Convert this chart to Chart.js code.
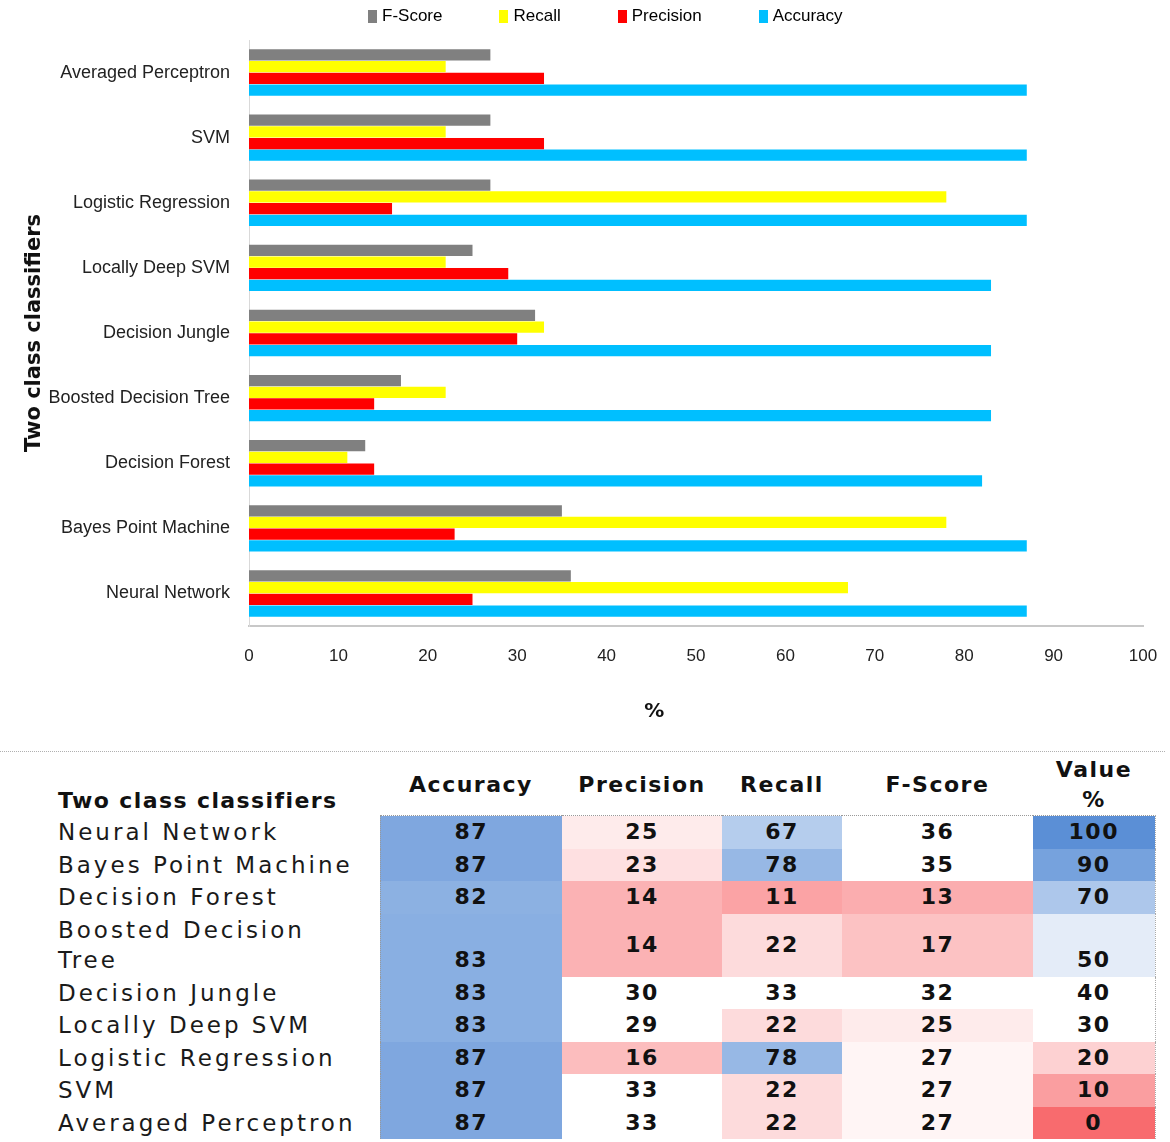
<!DOCTYPE html>
<html>
<head>
<meta charset="utf-8">
<script src="https://cdn.jsdelivr.net/npm/chart.js@4"></script>
<style>
html,body{margin:0;padding:0;background:#fff;}
#page{position:relative;width:1170px;height:1142px;overflow:hidden;}
#chartBox{position:absolute;left:0;top:0;width:1170px;height:745px;}
#legend{position:absolute;left:368px;top:4px;display:flex;font:17px "Liberation Sans",Arial,sans-serif;color:#000;line-height:24px;}
#legend .item{display:flex;align-items:center;margin-right:57px;}
#legend .box{width:9px;height:13px;margin-right:5px;}
#sep{position:absolute;left:0;top:751px;width:1165px;border-top:1px dotted #b0b0b0;}
#tbl{position:absolute;left:58px;top:755px;border-collapse:collapse;table-layout:fixed;font-family:"DejaVu Sans",Verdana,sans-serif;color:#111;}
#tbl th{font-weight:bold;font-size:22px;letter-spacing:1.5px;height:60px;padding:0;text-align:center;vertical-align:middle;line-height:30px;}
#tbl th.lab{text-align:left;vertical-align:bottom;letter-spacing:1.4px;padding-bottom:0;}
#tbl td{padding:1px 0;line-height:30.5px;font-size:22px;}
#tbl td.lab{font-size:23px;letter-spacing:3px;text-align:left;padding-right:14px;color:#1a1a1a;}
#tbl td.num{font-weight:bold;letter-spacing:1.5px;text-align:center;vertical-align:middle;}
#tbl td.bot{vertical-align:bottom;}
#tbl tr.first td.num{border-top:1px dotted #999;}
#tbl td.acc{border-left:1px dotted #999;}
#tbl td.val{border-right:1px dotted #aaa;}
</style>
</head>
<body>
<div id="page">
  <div id="chartBox"><canvas id="chart"></canvas></div>
  <div id="legend"></div>
  <div id="sep"></div>
  <table id="tbl"></table>
</div>
<script>
// values as listed in the table (top row first)
const classifiers = ["Neural Network", "Bayes Point Machine", "Decision Forest", "Boosted Decision Tree",
  "Decision Jungle", "Locally Deep SVM", "Logistic Regression", "SVM", "Averaged Perceptron"];
const accuracy  = [87, 87, 82, 83, 83, 83, 87, 87, 87];
const precision = [25, 23, 14, 14, 30, 29, 16, 33, 33];
const recall    = [67, 78, 11, 22, 33, 22, 78, 22, 22];
const fscore    = [36, 35, 13, 17, 32, 25, 27, 27, 27];
const scaleValues = [100, 90, 70, 50, 40, 30, 20, 10, 0];
const xTicks = [0, 10, 20, 30, 40, 50, 60, 70, 80, 90, 100];

const rev = a => a.slice().reverse();
const sans = '"Liberation Sans",Arial,sans-serif';

const chart = new Chart(document.getElementById("chart"), {
  type: "bar",
  data: {
    labels: rev(classifiers),
    datasets: [
      {label: "F-Score", data: rev(fscore), backgroundColor: "#808080"},
      {label: "Recall", data: rev(recall), backgroundColor: "#FFFF00"},
      {label: "Precision", data: rev(precision), backgroundColor: "#FF0000"},
      {label: "Accuracy", data: rev(accuracy), backgroundColor: "#00BFFF"}
    ]
  },
  options: {
    indexAxis: "y",
    responsive: true,
    maintainAspectRatio: false,
    animation: false,
    datasets: {bar: {categoryPercentage: 0.72, barPercentage: 0.96, borderWidth: 0}},
    layout: {padding: {top: 40, right: 27, left: 0, bottom: 0}},
    plugins: {legend: {display: false}, tooltip: {enabled: false}},
    scales: {
      x: {
        min: 0, max: 100,
        afterBuildTicks: s => { s.ticks = xTicks.map(v => ({value: v})); },
        ticks: {padding: 20, color: "#222", font: {family: sans, size: 17}},
        grid: {display: false, drawTicks: false},
        border: {color: "#c8c8c8", width: 2},
        title: {display: true, text: "%" + " ".repeat(12), color: "#111",
          font: {family: "DejaVu Sans", weight: "bold", size: 20}, padding: {top: 0, bottom: 21}},
        afterFit: s => { s.height = 119; s.paddingLeft = 0; s.paddingRight = 0; }
      },
      y: {
        ticks: {padding: 19, color: "#222", font: {family: sans, size: 18}},
        grid: {display: false, drawTicks: false},
        border: {color: "#d9d9d9", width: 1},
        title: {display: true, text: "Two class classifiers", color: "#111",
          font: {family: "DejaVu Sans", weight: "bold", size: 21}, padding: {top: 22, bottom: 0}},
        afterFit: s => { s.width = 249; }
      }
    }
  }
});

// legend built from the chart datasets
const legend = document.getElementById("legend");
chart.data.datasets.forEach(ds => {
  const it = document.createElement("div");
  it.className = "item";
  it.innerHTML = '<span class="box" style="background:' + ds.backgroundColor + '"></span><span>' + ds.label + '</span>';
  legend.appendChild(it);
});

// red - white - blue colour scale for the table
const lowC = [248, 107, 110], midC = [255, 255, 255], highC = [91, 143, 214];
function cellColor(v) {
  let a, b, t;
  if (v <= 29) { a = lowC; b = midC; t = v / 29; }
  else if (v <= 40) { return "rgb(255,255,255)"; }
  else { a = midC; b = highC; t = (v - 40) / 60; }
  const c = a.map((x, i) => Math.round(x + (b[i] - x) * t));
  return "rgb(" + c.join(",") + ")";
}

const tbl = document.getElementById("tbl");
let html = '<colgroup><col style="width:322px"><col style="width:182px"><col style="width:160px"><col style="width:120px"><col style="width:191px"><col style="width:122px"></colgroup>';
html += '<tr><th class="lab">Two class classifiers</th><th>Accuracy</th><th>Precision</th><th>Recall</th><th>F-Score</th><th>Value<br>%</th></tr>';
classifiers.forEach((name, i) => {
  const cell = (v, cls) => '<td class="num ' + cls + '" style="background:' + cellColor(v) + '">' + v + '</td>';
  html += '<tr' + (i === 0 ? ' class="first"' : '') + '><td class="lab">' + name + '</td>' +
    cell(accuracy[i], "acc bot") + cell(precision[i], "") + cell(recall[i], "") +
    cell(fscore[i], "") + cell(scaleValues[i], "val bot") + '</tr>';
});
tbl.innerHTML = html;
</script>
</body>
</html>
